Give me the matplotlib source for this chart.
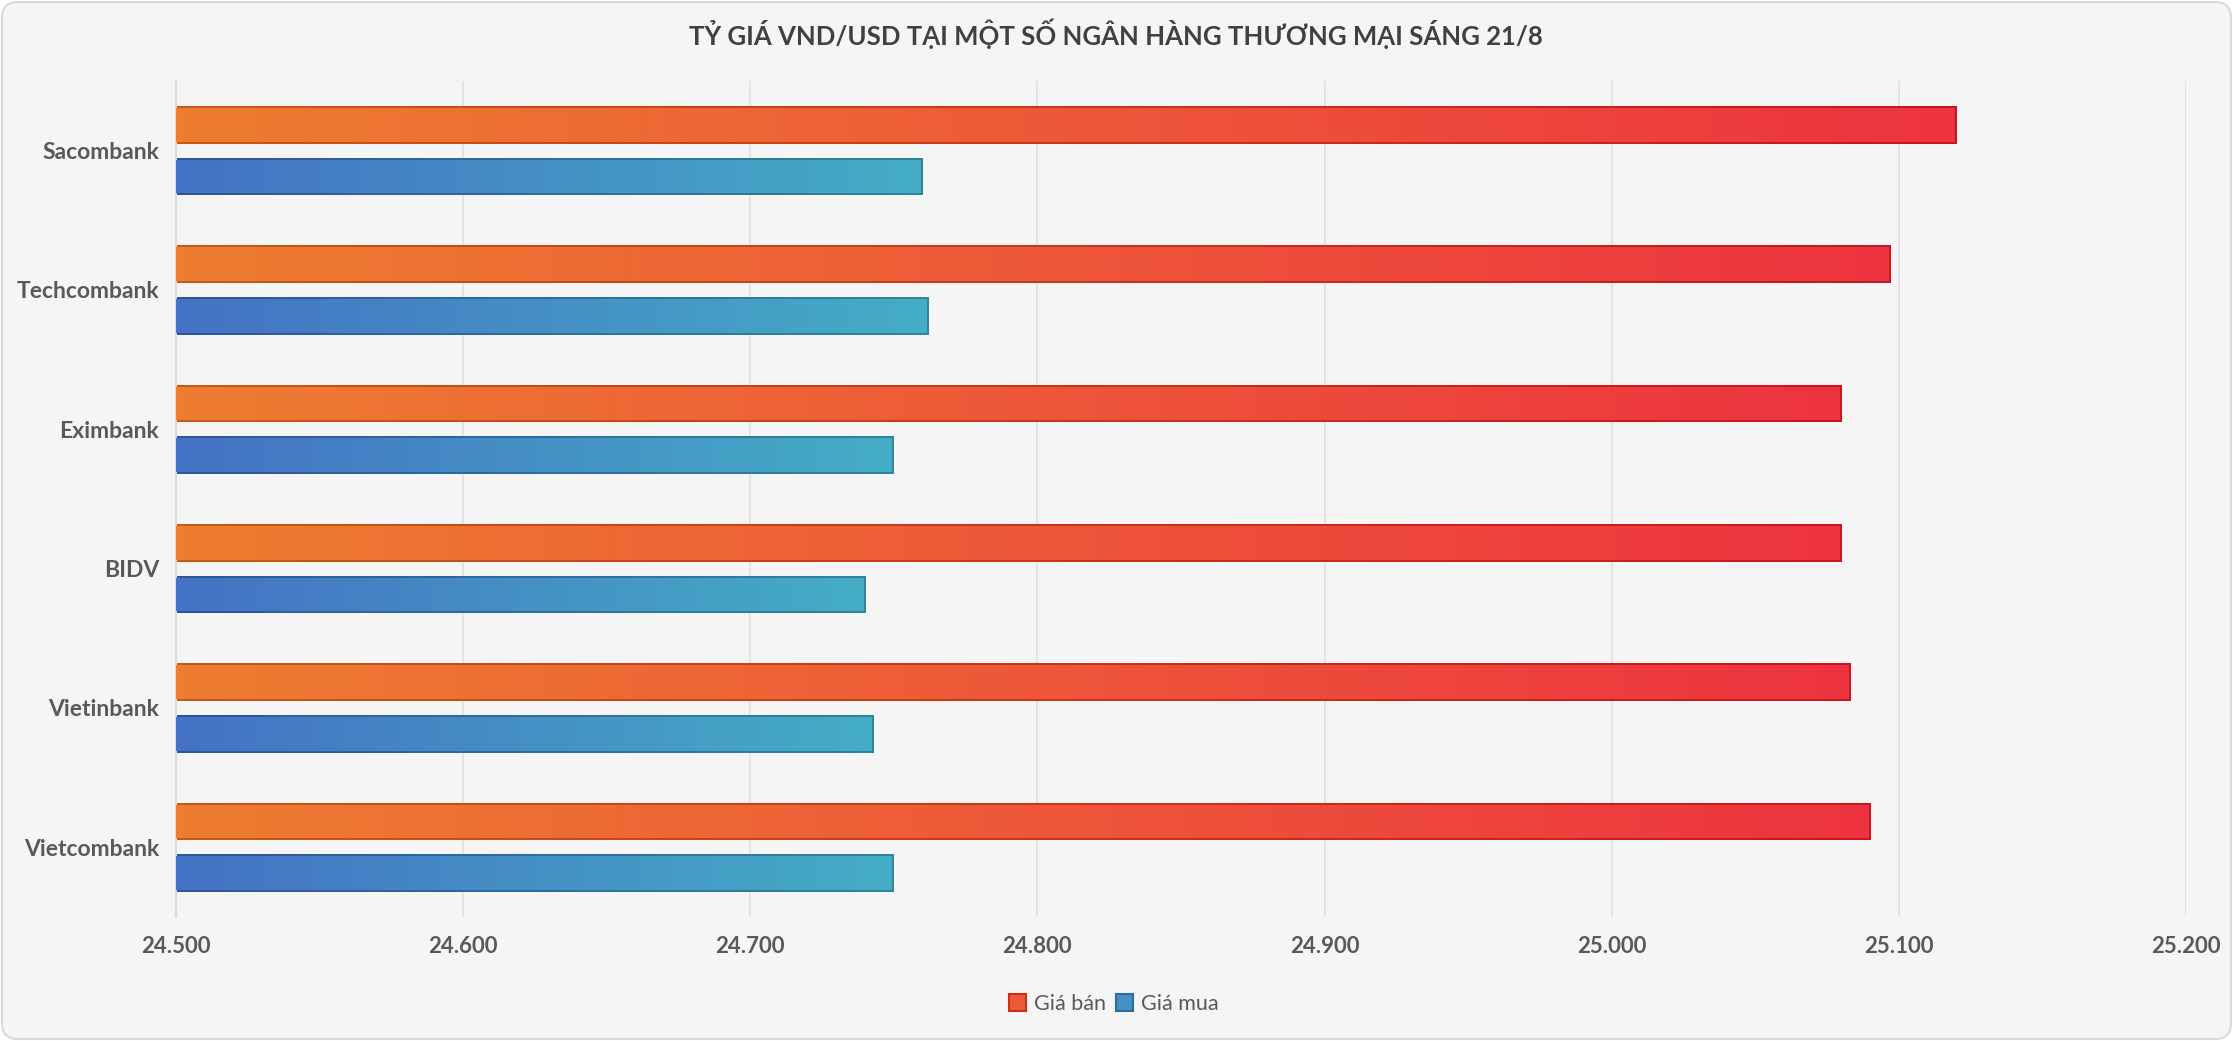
import numpy as np
import matplotlib
matplotlib.use("Agg")
import matplotlib.pyplot as plt
from matplotlib.colors import LinearSegmentedColormap
from matplotlib.patches import Rectangle, FancyBboxPatch, Patch
from matplotlib.transforms import IdentityTransform
from matplotlib.ticker import FuncFormatter

plt.rcParams['font.family'] = ['Lato', 'DejaVu Sans']
plt.rcParams['font.weight'] = 'bold'

# data
banks = ["Sacombank", "Techcombank", "Eximbank", "BIDV", "Vietinbank", "Vietcombank"]
gia_ban = [25120, 25097, 25080, 25080, 25083, 25090]
gia_mua = [24760, 24762, 24750, 24740, 24743, 24750]
x_min, x_max = 24500, 25200

# gradient colours (left -> right), fill and edge
ban_fill = LinearSegmentedColormap.from_list("bf", ["#ED7D31", "#EE3340"])
ban_edge = LinearSegmentedColormap.from_list("be", ["#C55A11", "#C8161E"])
mua_fill = LinearSegmentedColormap.from_list("mf", ["#4472C4", "#45ADC6"])
mua_edge = LinearSegmentedColormap.from_list("me", ["#2F5597", "#31859C"])

W, H = 2233, 1041
fig = plt.figure(figsize=(W / 100, H / 100), dpi=100, facecolor="white")

# rounded chart area
bg = FancyBboxPatch((2, 2), W - 4, H - 4, boxstyle="round,pad=0,rounding_size=16",
                    transform=IdentityTransform(), fc="#F5F5F5", ec="#D9D9D9", lw=1.5,
                    zorder=-10)
fig.patches.append(bg)

ax = fig.add_axes([176 / W, 1 - 917 / H, (2186 - 176) / W, (917 - 81) / H])
ax.set_facecolor("none")

y = np.arange(len(banks))
bh = 0.27
off = 0.185
grad = np.linspace(0, 1, 256).reshape(1, -1)

# size of 2 px in data units
ax_w_px = (2186 - 176)
ax_h_px = (917 - 81)
dx = 2 * (x_max - x_min) / ax_w_px
dy = 2 * 6.0 / ax_h_px


def grad_bars(ypos, vals, fill_cmap, edge_cmap):
    bars = ax.barh(ypos, vals, height=bh, color="none", edgecolor="none", zorder=2)
    for rect, v in zip(bars, vals):
        y0 = rect.get_y()
        ext = [x_min, v, y0 + bh, y0]
        im = ax.imshow(grad, cmap=edge_cmap, aspect="auto", extent=ext,
                       interpolation="bicubic", zorder=2)
        im.set_clip_path(rect)
        inner = Rectangle((0, y0 + dy), v - dx, bh - 2 * dy, fc="none", ec="none")
        ax.add_patch(inner)
        im2 = ax.imshow(grad, cmap=fill_cmap, aspect="auto", extent=ext,
                        interpolation="bicubic", zorder=3)
        im2.set_clip_path(inner)


grad_bars(y - off, gia_ban, ban_fill, ban_edge)
grad_bars(y + off, gia_mua, mua_fill, mua_edge)

ax.set_xlim(x_min, x_max)
ax.set_ylim(5.5, -0.5)
ax.set_xticks(np.arange(x_min, x_max + 1, 100))
ax.xaxis.set_major_formatter(FuncFormatter(lambda v, p: f"{v:,.0f}".replace(",", ".")))
ax.set_yticks(y)
ax.set_yticklabels(banks, fontweight="bold")
ax.grid(axis="x", color="#E3E3E3", lw=1.3)
ax.set_axisbelow(True)
for s in ["top", "right", "bottom"]:
    ax.spines[s].set_visible(False)
ax.spines["left"].set_color("#D9D9D9")
ax.spines["left"].set_linewidth(1.5)
ax.tick_params(axis="both", length=0, labelcolor="#595959")
ax.tick_params(axis="y", pad=12, labelsize=16.5)
ax.tick_params(axis="x", pad=14, labelsize=16)

fig.text(1116 / W, 1 - 34 / H, "TỶ GIÁ VND/USD TẠI MỘT SỐ NGÂN HÀNG THƯƠNG MẠI SÁNG 21/8",
         ha="center", va="center", fontsize=18.5, fontweight="bold", color="#404040")

handles = [Patch(fc="#EE5A38", ec="#C8301A", lw=1.5),
           Patch(fc="#4590C5", ec="#2F6E9A", lw=1.5)]
fig.legend(handles, ["Giá bán", "Giá mua"], loc="center", bbox_to_anchor=(1114 / W, 1 - 1004 / H),
           ncol=2, frameon=False, labelcolor="#595959",
           prop={"size": 15.5, "weight": "normal"},
           handlelength=0.8, handleheight=0.85, handletextpad=0.37, columnspacing=0.45)

fig.savefig("out.png", dpi=100, facecolor="white")
